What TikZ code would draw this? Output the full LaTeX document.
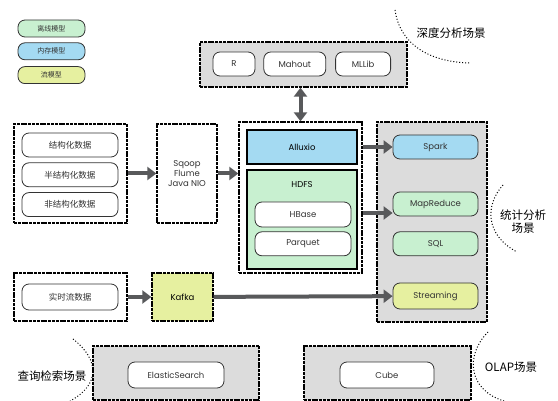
\documentclass[tikz,border=0pt]{standalone}
\usepackage{fontspec}
\setmainfont{Poppins}
\newfontfamily\cjk{Noto Sans CJK SC}
\usepackage{tikz}
\usetikzlibrary{arrows.meta,positioning}

\definecolor{offgreen}{RGB}{200,240,208}
\definecolor{memblue}{RGB}{164,218,242}
\definecolor{flowyellow}{RGB}{230,240,160}
\definecolor{zonegray}{RGB}{220,220,220}
\definecolor{arrowgray}{RGB}{88,89,91}

\begin{document}
\begin{tikzpicture}[x=1pt,y=-1pt,
  zone/.style={draw=black, line width=1.3pt, dash pattern=on 3pt off 0.8pt, inner sep=0pt},
  pill/.style={draw=black!80, line width=0.8pt, rounded corners=7pt, fill=white, inner sep=0pt, text=black!80, font=\fontsize{8.5}{10}\selectfont},
  solidbox/.style={draw=black, line width=1.2pt, inner sep=0pt},
  bigarrow/.style={draw=arrowgray, line width=4pt, -{Triangle[length=9pt,width=13pt]}},
  scene/.style={dotted, line width=1pt},
  scenetext/.style={font=\cjk\fontsize{11.5}{13}\selectfont, align=center}]
  \useasboundingbox (0,0) rectangle (558,401);

  % legend
  \node (lgoff) [pill, fill=offgreen, minimum width=67pt, minimum height=17pt] at (51.5,28.5) {\cjk\fontsize{7}{8}\selectfont 离线模型};
  \node (lgmem) [pill, fill=memblue, minimum width=67pt, minimum height=17pt, below=5pt of lgoff] {\cjk\fontsize{7}{8}\selectfont 内存模型};
  \node (lgflow) [pill, fill=flowyellow, minimum width=67pt, minimum height=17pt, below=6pt of lgmem] {\cjk\fontsize{7}{8}\selectfont 流模型};

  % deep analysis
  \node (deep) [zone, fill=zonegray, minimum width=207pt, minimum height=45pt] at (303.5,64.5) {};
  \node (rlang) [pill, minimum width=42pt, minimum height=24pt] at (234,64) {R};
  \node (mahout) [pill, minimum width=62pt, minimum height=24pt, right=8pt of rlang] {Mahout};
  \node (mllib) [pill, minimum width=55pt, minimum height=24pt, right=9pt of mahout] {MLLib};
  \node (deeplbl) [scenetext] at (451,33) {深度分析场景};
  \draw[scene] (395,10) .. controls (400,45) and (430,62) .. (470,63);

  % sources
  \node (srcs) [zone, fill=white, minimum width=113pt, minimum height=99pt] at (70.5,173.5) {};
  \node (struct) [pill, minimum width=96pt, minimum height=24pt] at (70,145) {\cjk 结构化数据};
  \node (semi) [pill, minimum width=96pt, minimum height=24pt, below=5pt of struct] {\cjk 半结构化数据};
  \node (unstruct) [pill, minimum width=96pt, minimum height=24pt, below=5pt of semi] {\cjk 非结构化数据};
  \node (sqoop) [zone, fill=white, minimum width=60pt, minimum height=99pt, align=center,
    text=black!80, font=\fontsize{8.5}{10}\selectfont] at (187,173.5) {Sqoop\\Flume\\Java NIO};

  % storage
  \node (store) [zone, fill=white, minimum width=123pt, minimum height=151pt] at (300.5,197.5) {};
  \node (alluxio) [solidbox, fill=memblue, minimum width=110pt, minimum height=34pt,
    font=\fontsize{8.5}{10}\selectfont] at (302,147) {Alluxio};
  \node (hdfs) [solidbox, fill=offgreen, minimum width=110pt, minimum height=99pt] at (302,219.5) {};
  \node (hdfslbl) [font=\fontsize{8.5}{10}\selectfont] at (302,185) {HDFS};
  \node (hbase) [pill, minimum width=96pt, minimum height=25pt] at (303,214.5) {HBase};
  \node (parquet) [pill, minimum width=96pt, minimum height=24pt, below=4pt of hbase] {Parquet};

  % compute
  \node (compute) [zone, fill=zonegray, minimum width=110pt, minimum height=200pt] at (432,222) {};
  \node (spark) [pill, fill=memblue, minimum width=85pt, minimum height=24pt] at (435.5,147) {Spark};
  \node (mapred) [pill, fill=offgreen, minimum width=85pt, minimum height=24pt] at (435.5,204) {MapReduce};
  \node (sql) [pill, fill=offgreen, minimum width=85pt, minimum height=24pt, below=15pt of mapred] {SQL};
  \node (streaming) [pill, fill=flowyellow, minimum width=85pt, minimum height=26pt] at (435.5,296) {Streaming};
  \node (statlbl) [scenetext] at (523,222) {统计分析\\场景};
  \draw[scene] (503,185) .. controls (485,205) and (485,235) .. (517,252);

  % realtime
  \node (rtsrc) [zone, fill=white, minimum width=113pt, minimum height=48pt] at (70.5,297) {};
  \node (rtdata) [pill, minimum width=96pt, minimum height=26pt] at (70,297) {\cjk 实时流数据};
  \node (kafka) [zone, fill=flowyellow, minimum width=61pt, minimum height=48pt,
    font=\fontsize{8.5}{10}\selectfont] at (182.5,297) {Kafka};

  % query and olap
  \node (query) [zone, fill=zonegray, minimum width=166pt, minimum height=54pt] at (176,373) {};
  \node (es) [pill, minimum width=96pt, minimum height=26pt] at (176,375) {ElasticSearch};
  \node (querylbl) [scenetext] at (52,376) {查询检索场景};
  \draw[scene] (73,339) .. controls (100,360) and (100,385) .. (70,401);
  \node (olap) [zone, fill=zonegray, minimum width=167pt, minimum height=54pt] at (387.5,373) {};
  \node (cube) [pill, minimum width=94pt, minimum height=26pt] at (387,375) {Cube};
  \node (olaplbl) [scenetext] at (511,367) {OLAP场景};
  \draw[scene] (488,332) .. controls (465,355) and (468,390) .. (504,401);

  % flows
  \draw[bigarrow] (srcs) -- (sqoop);
  \draw[bigarrow] (sqoop.east) -- (sqoop.east -| store.west);
  \draw[bigarrow] (store.east |- spark) -- (spark.west);
  \draw[bigarrow] ([yshift=-9pt]store.east |- mapred) -- ([yshift=-9pt]mapred.west);
  \draw[bigarrow] (rtsrc) -- (kafka);
  \draw[bigarrow] (kafka) -- (streaming);
  \draw[bigarrow, {Triangle[length=9pt,width=13pt]}-{Triangle[length=9pt,width=13pt]}] (store.north) -- (store.north |- deep.south);
\end{tikzpicture}
\end{document}
